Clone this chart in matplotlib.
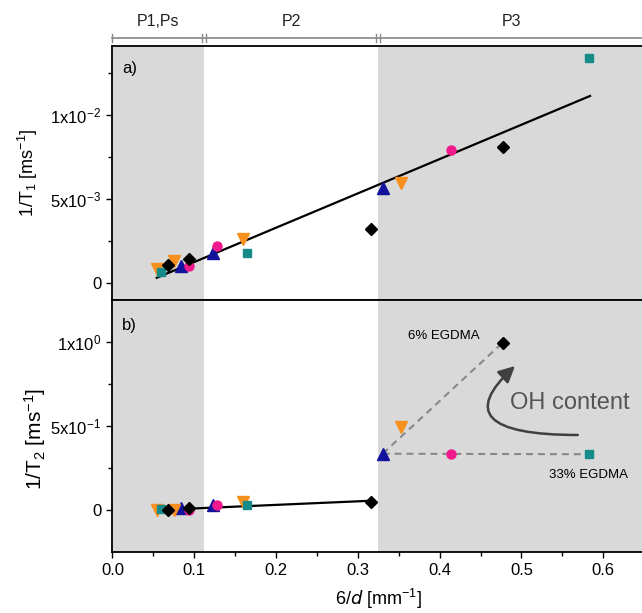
import matplotlib
matplotlib.use("Agg")
import matplotlib.pyplot as plt
import numpy as np
from matplotlib.path import Path
from matplotlib.patches import FancyArrowPatch
import matplotlib.transforms as mtransforms

plt.rcParams['font.family'] = ['Liberation Sans', 'DejaVu Sans']
plt.rcParams['mathtext.default'] = 'regular'
plt.rcParams['lines.scale_dashes'] = False

# ---------------- data ----------------
# black diamonds
x_black = [0.0676, 0.0933, 0.3158, 0.4771]
t1_black = [1.11e-3, 1.41e-3, 3.2e-3, 8.11e-3]
t2_black = [0.0, 0.011, 0.046, 0.996]
# orange down triangles
x_orange = [0.0542, 0.0753, 0.1593, 0.3528]
t1_orange = [8.2e-4, 1.33e-3, 2.6e-3, 5.97e-3]
t2_orange = [0.0, 0.0, 0.046, 0.494]
# blue up triangles
x_blue = [0.0835, 0.1233, 0.3304]
t1_blue = [1.03e-3, 1.77e-3, 5.64e-3]
t2_blue = [0.011, 0.031, 0.335]
# pink circles
x_pink = [0.094, 0.1279, 0.4136]
t1_pink = [1.03e-3, 2.2e-3, 7.92e-3]
t2_pink = [0.0, 0.027, 0.332]
# teal squares
x_teal = [0.0594, 0.1642, 0.5826]
t1_teal = [6.7e-4, 1.8e-3, 0.01337]
t2_teal = [0.005, 0.027, 0.332]

# linear fits (endpoints)
fit1_x = [0.0542, 0.5839]
fit1_y = [3.2e-4, 0.01113]
fit2_x = [0.0561, 0.3158]
fit2_y = [0.0, 0.055]

# regions
region_edges = [0.0, 0.112, 0.325, 0.65]
region_labels = ['P1,Ps', 'P2', 'P3']

x_ticks = [0.0, 0.1, 0.2, 0.3, 0.4, 0.5, 0.6]
x_ticklabels = ['0.0', '0.1', '0.2', '0.3', '0.4', '0.5', '0.6']
y1_ticks = [0, 5e-3, 1e-2]
y1_ticklabels = ['0', r'5x10$^{-3}$', r'1x10$^{-2}$']
y2_ticks = [0, 0.5, 1.0]
y2_ticklabels = ['0', r'5x10$^{-1}$', r'1x10$^{0}$']

# ---------------- styles ----------------
C_BLACK = '#000000'
C_ORANGE = '#F7901E'
C_BLUE = '#12129C'
C_PINK = '#F2198C'
C_TEAL = '#178A8A'
C_GRAY = '#D9D9D9'

series = [
    (x_blue, t1_blue, t2_blue, '^', C_BLUE, 8.5),
    (x_pink, t1_pink, t2_pink, 'o', C_PINK, 6.5),
    (x_orange, t1_orange, t2_orange, 'v', C_ORANGE, 8.5),
    (x_teal, t1_teal, t2_teal, 's', C_TEAL, 5.8),
    (x_black, t1_black, t2_black, 'D', C_BLACK, 6.0),
]

W, H = 642, 613
fig = plt.figure(figsize=(W / 100, H / 100), dpi=100)
left = 112.4 / W
width = 0.65 * 818 / W
axw = width * W
ax1 = fig.add_axes([left, 1 - 300 / H, width, 254 / H])
ax2 = fig.add_axes([left, 1 - 552 / H, width, 252 / H])

for ax in (ax1, ax2):
    ax.set_xlim(0, 0.65)
    ax.axvspan(region_edges[0], region_edges[1], color=C_GRAY, lw=0, zorder=0)
    ax.axvspan(region_edges[2], region_edges[3], color=C_GRAY, lw=0, zorder=0)
    for s in ax.spines.values():
        s.set_linewidth(1.3)
    ax.set_xticks(x_ticks)
    ax.set_xticks(np.arange(0.05, 0.65, 0.1), minor=True)
    ax.tick_params(which='major', direction='out', length=4.5, width=1.0, labelsize=12)
    ax.tick_params(which='minor', direction='out', length=2.8, width=1.0)

ax1.set_ylim(-0.001, 0.0141)
ax1.set_yticks(y1_ticks)
ax1.set_yticklabels(y1_ticklabels)
ax1.set_yticks([2.5e-3, 7.5e-3, 1.25e-2], minor=True)
ax1.set_xticklabels([])

ax2.set_ylim(-0.25, 1.25)
ax2.set_yticks(y2_ticks)
ax2.set_yticklabels(y2_ticklabels)
ax2.set_yticks([0.25, 0.75], minor=True)
ax2.set_xticklabels(x_ticklabels)

# fit lines
ax1.plot(fit1_x, fit1_y, color='black', lw=1.6, zorder=2)
ax2.plot(fit2_x, fit2_y, color='black', lw=1.6, zorder=2)

# dashed guide lines in P3 (bottom panel)
ax2.plot([x_blue[-1], x_black[-1]], [t2_blue[-1], t2_black[-1]], color='#888888',
         lw=1.5, dashes=(5, 3.6), zorder=2)
ax2.plot([x_blue[-1], x_teal[-1]], [t2_blue[-1], t2_teal[-1]], color='#888888',
         lw=1.5, dashes=(5, 3.6), zorder=2)

for xs, y1s, y2s, m, c, ms in series:
    ax1.plot(xs, y1s, ls='none', marker=m, color=c, ms=ms, mec=c, zorder=3)
    ax2.plot(xs, y2s, ls='none', marker=m, color=c, ms=ms, mec=c, zorder=3)

# labels
ax1.set_ylabel(r'1/T$_1$ [ms$^{-1}$]', fontsize=13)
ax2.set_ylabel(r'1/T$_2$ [ms$^{-1}$]', fontsize=15)
ax2.set_xlabel(r'6/$\mathit{d}$ [mm$^{-1}$]', fontsize=13, labelpad=6)
ax1.yaxis.set_label_coords(-(112.4 - 40) / axw, 0.5)
ax2.yaxis.set_label_coords(-(112.4 - 48) / axw, 0.45)

ax1.text(0.018, 0.913, 'a)', transform=ax1.transAxes, fontsize=12, va='center', ha='left')
ax2.text(0.018, 0.90, 'b)', transform=ax2.transAxes, fontsize=12, va='center', ha='left')

# annotations
ax2.text(0.3614, 1.036, '6% EGDMA', fontsize=9.5, va='center', ha='left')
ax2.text(0.5337, 0.208, '33% EGDMA', fontsize=9.5, va='center', ha='left')
ax2.text(0.486, 0.637, 'OH content', fontsize=17, color='#555555', va='center', ha='left')
arrow_path = Path([(0.5690, 0.4464), (0.4005, 0.4464), (0.4922, 0.857)],
                  [Path.MOVETO, Path.CURVE3, Path.CURVE3])
arr = FancyArrowPatch(path=arrow_path, arrowstyle='-|>,head_length=0.7,head_width=0.35',
                      mutation_scale=14, color='#404040', lw=1.8, transform=ax2.transData)
ax2.add_patch(arr)

# region bracket on top
trans = mtransforms.blended_transform_factory(ax1.transData, ax1.transAxes)
yb = 1 + 8 / 254
ax1.plot([region_edges[0], region_edges[-1]], [yb, yb], color='#888888', lw=1.2,
         transform=trans, clip_on=False)
ax1.plot([region_edges[0]] * 2, [yb - 4 / 254, yb + 4 / 254], color='#888888', lw=1.0,
         transform=trans, clip_on=False)
for e in region_edges[1:3]:
    for dx in (-0.0022, 0.0022):
        ax1.plot([e + dx] * 2, [yb - 4 / 254, yb + 4 / 254], color='#888888', lw=1.0,
                 transform=trans, clip_on=False)
for i, lab in enumerate(region_labels):
    xc = (region_edges[i] + region_edges[i + 1]) / 2
    ax1.text(xc, 1 + 25 / 254, lab, transform=trans, fontsize=11.5, ha='center',
             va='center', color='#222222')

fig.savefig('out.png', dpi=100)
